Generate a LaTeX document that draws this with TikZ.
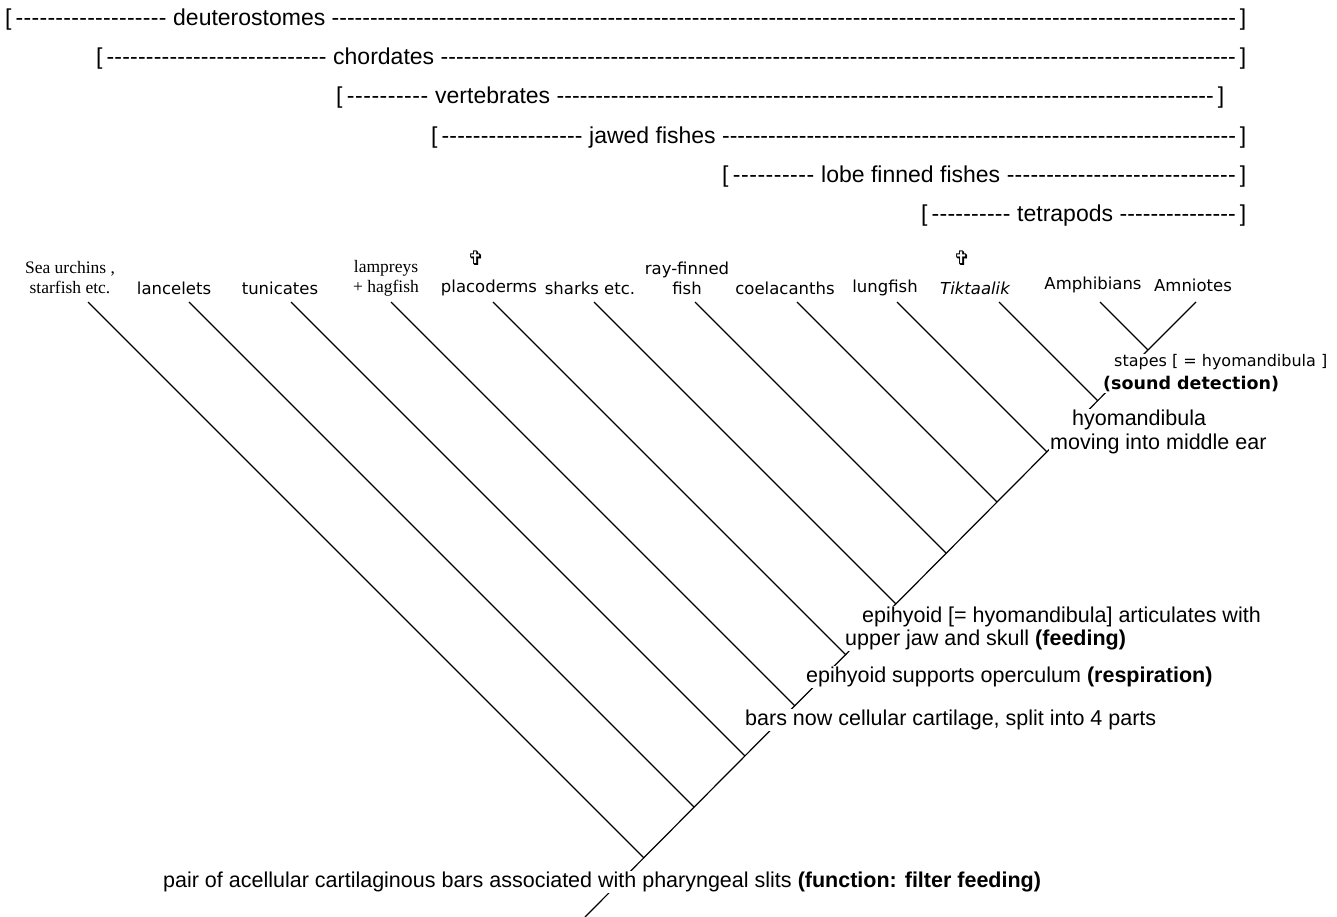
\documentclass[tikz,border=0pt]{standalone}
\usepackage{fontspec}
\setmainfont{Liberation Sans}
\newfontfamily\taxonfont{DejaVu Sans}
\newfontfamily\oldtaxonfont{Liberation Serif}
\def\cladebar#1#2#3{\hbox to #1{\hbox to #2{[\,\xleaders\hbox{-}\hfill\ }#3\ \xleaders\hbox{-}\hfill\,]}}

\begin{document}
\begin{tikzpicture}[x=1pt, y=-1pt,
		clade/.style={anchor=west, inner sep=0pt, font=\fontsize{23}{26}\selectfont},
		taxon/.style={inner sep=0pt, align=center, font=\taxonfont\fontsize{16.5}{20}\selectfont},
		oldtaxon/.style={inner sep=0pt, align=center, font=\oldtaxonfont\fontsize{17.5}{20}\selectfont},
		extinct/.style={inner sep=0pt, font=\taxonfont\bfseries\fontsize{20}{20}\selectfont},
		change/.style={anchor=west, fill=white, inner sep=1pt, align=left, font=\fontsize{21.5}{23.5}\selectfont},
		branch/.style={line width=1.2pt}]
		%%%%% START %%%%%
		
		\useasboundingbox (0,0) rectangle (1337,917);
		\fill[white] (0,0) rectangle (1337,917);
		
		\node[clade] (deut) at (5,20) {\cladebar{1241pt}{168pt}{deuterostomes}};
		\node[clade] (chord) at (96,59) {\cladebar{1150pt}{237pt}{chordates}};
		\node[clade] (vert) at (336,98) {\cladebar{888pt}{99pt}{vertebrates}};
		\node[clade] (jawed) at (431,138) {\cladebar{815pt}{158pt}{jawed fishes}};
		\node[clade] (lobe) at (722,177) {\cladebar{524pt}{99pt}{lobe finned fishes}};
		\node[clade] (tetra) at (921,216) {\cladebar{325pt}{96pt}{tetrapods}};
		
		\node[oldtaxon] (urchins) at (70,278) {Sea urchins ,\\starfish etc.};
		\node[taxon] (lancelets) at (174,288) {lancelets};
		\node[taxon] (tunicates) at (280,288) {tunicates};
		\node[oldtaxon] (lampreys) at (386,278) {lampreys\\+ hagfish};
		\node[taxon] (placoderms) at (489,288) {placoderms};
		\node[extinct] (dagger1) at (476,258) {✞};
		\node[taxon] (sharks) at (590,288) {sharks etc.};
		\node[taxon] (rayfin) at (687,278) {ray-finned\\fish};
		\node[taxon] (coelacanths) at (785,288) {coelacanths};
		\node[taxon] (lungfish) at (885,288) {lungfish};
		\node[taxon] (tiktaalik) at (975,288) {\itshape Tiktaalik};
		\node[extinct] (dagger2) at (962,258) {✞};
		\node[taxon] (amphibians) at (1093,285) {Amphibians};
		\node[taxon] (amniotes) at (1193,285) {Amniotes};
		
		% tips of the branches
		\coordinate (t1) at (88,302);
		\coordinate (t2) at (189,302);
		\coordinate (t3) at (291,302);
		\coordinate (t4) at (391,302);
		\coordinate (t5) at (493,302);
		\coordinate (t6) at (594,302);
		\coordinate (t7) at (695,302);
		\coordinate (t8) at (797,302);
		\coordinate (t9) at (897,302);
		\coordinate (t10) at (999,302);
		\coordinate (t11) at (1100,302);
		\coordinate (t12) at (1196,302);
		
		% junctions on the stem
		\coordinate (root) at (585,917);
		\coordinate (j1) at (644,858);
		\coordinate (j2) at (694,807);
		\coordinate (j3) at (745,756);
		\coordinate (j4) at (795,706);
		\coordinate (j5) at (846,655);
		\coordinate (j6) at (896,604);
		\coordinate (j7) at (946,553);
		\coordinate (j8) at (997,502);
		\coordinate (j9) at (1047,452);
		\coordinate (j10) at (1098,401);
		\coordinate (j11) at (1148,350);
		
		\draw[branch] (root) -- (j11);
		\draw[branch] (t1) -- (j1);
		\draw[branch] (t2) -- (j2);
		\draw[branch] (t3) -- (j3);
		\draw[branch] (t4) -- (j4);
		\draw[branch] (t5) -- (j5);
		\draw[branch] (t6) -- (j6);
		\draw[branch] (t7) -- (j7);
		\draw[branch] (t8) -- (j8);
		\draw[branch] (t9) -- (j9);
		\draw[branch] (t10) -- (j10);
		\draw[branch] (t11) -- (j11);
		\draw[branch] (t12) -- (j11);
		
		\node[change] (filter) at (162,882) {pair of acellular cartilaginous bars associated with pharyngeal slits \textbf{(function: filter feeding)}};
		\node[change] (cartilage) at (744,720) {bars now cellular cartilage, split into 4 parts};
		\node[change] (operculum) at (805,677) {epihyoid supports operculum \textbf{(respiration)}};
		\node[change] (jaw) at (844,628.5) {\hspace*{17pt}epihyoid [= hyomandibula] articulates with\\upper jaw and skull \textbf{(feeding)}};
		\node[change] (middleear) at (1049,432) {\hspace*{22pt}hyomandibula\\moving into middle ear};
		\node[change, font=\taxonfont\fontsize{16}{23}\selectfont] (stapes) at (1102,373.5) {\hspace*{11pt}stapes [ = hyomandibula ]\\{\bfseries\fontsize{17.5}{23}\selectfont (sound detection)}};
		
		%%%%% END %%%%%
\end{tikzpicture}
\end{document}
